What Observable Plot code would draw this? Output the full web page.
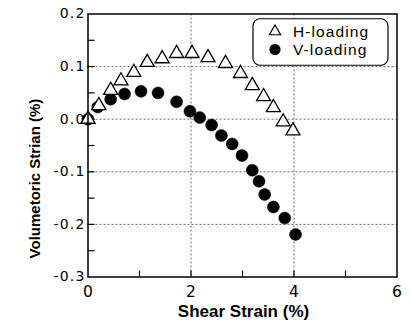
<!DOCTYPE html>
<html>
<head>
<meta charset="utf-8">
<script src="https://cdn.jsdelivr.net/npm/d3@7"></script>
<script src="https://cdn.jsdelivr.net/npm/@observablehq/plot@0.6"></script>
<style>
  html, body { margin: 0; padding: 0; background: #fff; }
  #chart { width: 411px; height: 329px; position: relative; }
  #legend { position: absolute; left: 252px; top: 18px; }
  #chart g[aria-label="y-axis tick label"] text { letter-spacing: 1.2px; font-family: 'DejaVu Sans', 'Liberation Sans', sans-serif; }
  #chart g[aria-label="x-axis tick label"] text { font-family: 'DejaVu Sans', 'Liberation Sans', sans-serif; }
</style>
</head>
<body>
<div id="chart"></div>
<script>
// ---- data ----
const hStrain = [0, 0.21, 0.44, 0.64, 0.89, 1.15, 1.44, 1.72, 2.02, 2.33, 2.67, 2.96, 3.19, 3.41, 3.60, 3.79, 3.98];
const hVol    = [0.0, 0.026, 0.055, 0.073, 0.089, 0.108, 0.115, 0.125, 0.125, 0.117, 0.106, 0.087, 0.064, 0.043, 0.022, -0.005, -0.022];
const vStrain = [0, 0.19, 0.44, 0.71, 1.03, 1.36, 1.72, 1.98, 2.17, 2.40, 2.59, 2.80, 2.99, 3.19, 3.32, 3.43, 3.60, 3.82, 4.03];
const vVol    = [0.0, 0.023, 0.038, 0.048, 0.053, 0.050, 0.033, 0.015, 0.003, -0.011, -0.031, -0.047, -0.069, -0.097, -0.118, -0.143, -0.167, -0.188, -0.219];

const seriesNames = ["H-loading", "V-loading"];
const xTicks = [0, 2, 4, 6];
const xMinorTicks = [1, 2, 3, 4, 5];
const xGrid = [2, 4];
const yTicks = [0.2, 0.1, 0.0, -0.1, -0.2, -0.3];
const yMinorTicks = [0.15, 0.1, 0.05, 0, -0.05, -0.1, -0.15, -0.2, -0.25];
const yGrid = [0.1, 0.0, -0.1, -0.2];
const xTitle = "Shear Strain (%)";
const yTitle = "Volumetoric Strian (%)";

const hData = hStrain.map((x, i) => ({x, y: hVol[i]}));
const vData = vStrain.map((x, i) => ({x, y: vVol[i]}));

const W = 411, H = 329;
const mL = 87.5, mR = 14.5, mT = 13.5, mB = 52.5;
const plotW = W - mL - mR, plotH = H - mT - mB;
const font = "'Liberation Sans', Arial, Helvetica, sans-serif";
const tickFont = "'DejaVu Sans', 'Liberation Sans', sans-serif";

const gridStyle = {stroke: "#666", strokeOpacity: 1, strokeWidth: 1, strokeDasharray: "2,2"};

const chart = Plot.plot({
  width: W,
  height: H,
  marginLeft: mL,
  marginRight: mR,
  marginTop: mT,
  marginBottom: mB,
  style: {fontFamily: font, fontSize: "14px", color: "black", background: "white"},
  x: {domain: [0, 6]},
  y: {domain: [-0.3, 0.2]},
  marks: [
    Plot.ruleX(xGrid, {x: d => d, ...gridStyle}),
    Plot.gridY(yGrid, gridStyle),
    Plot.tickX(xMinorTicks, {x: d => d, stroke: "black", strokeWidth: 1.2, insetTop: plotH - 6}),
    Plot.tickY(yMinorTicks, {y: d => d, stroke: "black", strokeWidth: 1.2, insetRight: plotW - 7}),
    Plot.axisX(xTicks, {tickSize: 0, tickPadding: 9, label: null, fontSize: 15.5, fontFamily: tickFont, tickFormat: d => String(d)}),
    Plot.axisY(yTicks, {tickSize: 0, tickPadding: 2.5, label: null, fontSize: 14, fontFamily: tickFont, tickFormat: d => d.toFixed(1)}),
    Plot.dot(vData, {x: "x", y: "y", r: 6, fill: "black", stroke: "black", strokeWidth: 0.5}),
    Plot.dot(hData, {x: "x", y: "y", r: 5.2, symbol: "triangle", fill: "white", stroke: "black", strokeWidth: 1.3}),
    Plot.frame({stroke: "black", strokeWidth: 1.5}),
    Plot.text([xTitle], {text: d => d, frameAnchor: "bottom", textAnchor: "middle", dx: 1, dy: 34.5, lineAnchor: "middle", fontSize: 17, fontWeight: "bold", fill: "black"}),
    Plot.text([yTitle], {text: d => d, frameAnchor: "left", textAnchor: "middle", rotate: -90, dx: -52.5, dy: 33, lineAnchor: "middle", fontSize: 15, fontWeight: "bold", fill: "black"})
  ]
});

const host = document.getElementById("chart");
host.appendChild(chart);

// legend (overlaid inside the plot frame, top right)
const lw = 137, lh = 48;
const leg = d3.create("svg")
  .attr("id", "legend")
  .attr("width", lw).attr("height", lh)
  .attr("viewBox", `0 0 ${lw} ${lh}`);
leg.append("rect")
  .attr("x", 1).attr("y", 0.75).attr("width", 135).attr("height", 46.5)
  .attr("rx", 7).attr("ry", 7)
  .attr("fill", "white").attr("stroke", "black").attr("stroke-width", 1.2);
const rows = [
  {name: seriesNames[0], sym: d3.symbolTriangle, size: 55, fill: "white", cy: 13.5},
  {name: seriesNames[1], sym: d3.symbolCircle, size: Math.PI * 25, fill: "black", cy: 31.5}
];
for (const r of rows) {
  leg.append("path")
    .attr("d", d3.symbol(r.sym, r.size)())
    .attr("transform", `translate(23,${r.cy})`)
    .attr("fill", r.fill).attr("stroke", "black").attr("stroke-width", 1.2);
  leg.append("text")
    .attr("x", 41).attr("y", r.cy).attr("dy", "0.36em")
    .attr("text-anchor", "start")
    .attr("font-size", 15.5)
    .attr("letter-spacing", 1.1)
    .attr("font-family", font)
    .attr("fill", "black")
    .text(r.name);
}
host.appendChild(leg.node());
</script>
</body>
</html>
